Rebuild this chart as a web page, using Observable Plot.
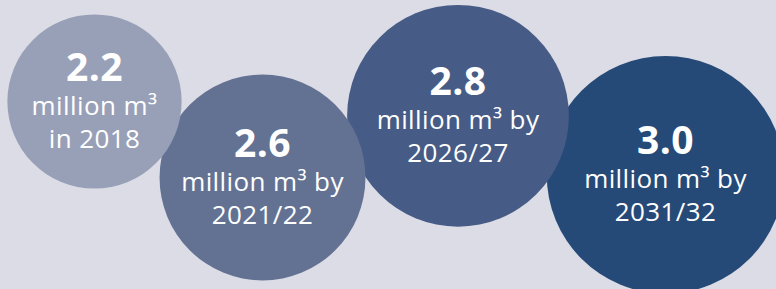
<!DOCTYPE html>
<html>
<head>
<meta charset="utf-8">
<script src="https://cdn.jsdelivr.net/npm/d3@7"></script>
<script src="https://cdn.jsdelivr.net/npm/@observablehq/plot@0.6"></script>
<style>
  html, body { margin: 0; padding: 0; background: #dcdce6; }
</style>
</head>
<body>
<div id="chart"></div>
<script>
// ---- data ----
const values = [2.2, 2.6, 2.8, 3.0];
const valueLabels = ["2.2", "2.6", "2.8", "3.0"];
const unitLines = ["million m³", "million m³ by", "million m³ by", "million m³ by"];
const periodLines = ["in 2018", "2021/22", "2026/27", "2031/32"];

// ---- layout (positions / styles) ----
const layout = {
  cx: [94, 262, 457.5, 665],
  cy: [101, 177, 115.3, 174.3],
  row: [0, 1, 0, 1],              // top row drawn first, bottom row on top
  fills: ["#98a0b8", "#637293", "#465c86", "#264a77"],
  pxPerUnit: 39.6
};

const rows = values.map((v, i) => ({
  value: v,
  label: valueLabels[i],
  unit: unitLines[i],
  period: periodLines[i],
  cx: layout.cx[i],
  cy: layout.cy[i],
  row: layout.row[i],
  fill: layout.fills[i]
})).sort((a, b) => a.row - b.row);

const W = 776, H = 289;
const font = "'Open Sans', 'Noto Sans', sans-serif";

const chart = Plot.plot({
  width: W,
  height: H,
  margin: 0,
  style: { background: "#dcdce6", letterSpacing: "0.4px", overflow: "hidden" },
  x: { type: "identity", axis: null },
  y: { type: "identity", axis: null },
  r: { type: "linear", domain: [0, 3], range: [0, 3 * layout.pxPerUnit] },
  marks: [
    Plot.dot(rows, { x: "cx", y: "cy", r: "value", fill: "fill", stroke: null }),
    Plot.text(rows, { x: "cx", y: "cy", text: "label", dy: -21, lineAnchor: "bottom",
      fill: "white", fontSize: 39, fontWeight: 700, fontFamily: font }),
    Plot.text(rows, { x: "cx", y: "cy", text: "unit", dy: 13.5, lineAnchor: "bottom",
      fill: "white", fontSize: 26, fontWeight: 400, fontFamily: font }),
    Plot.text(rows, { x: "cx", y: "cy", text: "period", dy: 46.5, lineAnchor: "bottom",
      fill: "white", fontSize: 26, fontWeight: 400, fontFamily: font })
  ]
});

document.getElementById("chart").appendChild(chart);
</script>
</body>
</html>
